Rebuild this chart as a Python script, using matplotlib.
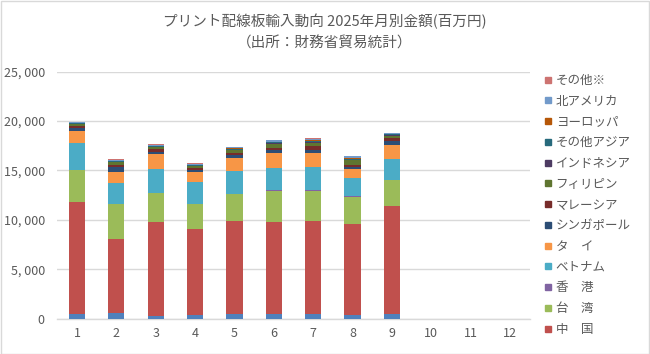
import matplotlib
matplotlib.use("Agg")
import matplotlib.pyplot as plt
from matplotlib.lines import Line2D
from matplotlib.patches import Rectangle
import numpy as np

plt.rcParams['font.family'] = ['Noto Sans CJK JP', 'DejaVu Sans']

months = ["1", "2", "3", "4", "5", "6", "7", "8", "9", "10", "11", "12"]

# unlabeled bottom series (legend entry removed in original)
base_series = [445, 545, 300, 400, 475, 475, 475, 375, 475]
china       = [11365, 7555, 9490, 8680, 9415, 9315, 9445, 9205, 10965]
taiwan      = [3240, 3480, 2900, 2530, 2700, 3170, 3040, 2770, 2570]
hongkong    = [40, 40, 40, 40, 40, 40, 40, 40, 40]
vietnam     = [2690, 2110, 2390, 2220, 2320, 2220, 2320, 1880, 2080]
thailand    = [1250, 1150, 1520, 1010, 1280, 1580, 1480, 880, 1450]
singapore   = [300, 450, 200, 200, 300, 250, 250, 250, 450]
malaysia    = [170, 250, 300, 180, 200, 200, 400, 200, 250]
philippines = [200, 250, 200, 180, 300, 450, 350, 450, 250]
indonesia   = [40, 50, 60, 50, 60, 60, 80, 60, 60]
other_asia  = [60, 60, 80, 60, 80, 80, 100, 100, 80]
europe      = [30, 40, 50, 40, 60, 80, 80, 80, 40]
n_america   = [80, 120, 90, 110, 140, 130, 160, 140, 100]
others      = [20, 30, 30, 30, 40, 40, 40, 40, 20]

series_labels = ["中　国", "台　湾", "香　港", "ベトナム", "タ　イ", "シンガポール",
                 "マレーシア", "フィリピン", "インドネシア", "その他アジア",
                 "ヨーロッパ", "北アメリカ", "その他※"]
series_values = [china, taiwan, hongkong, vietnam, thailand, singapore,
                 malaysia, philippines, indonesia, other_asia, europe,
                 n_america, others]
series_colors = ["#C0504D", "#9BBB59", "#8064A2", "#4BACC6", "#F79646", "#2C4D75",
                 "#772C2A", "#5F7530", "#4D3B62", "#276A7C", "#B65708",
                 "#729ACA", "#CD7371"]
base_color = "#4F81BD"

yticks = [0, 5000, 10000, 15000, 20000, 25000]
ytick_labels = ["0", "5, 000", "10, 000", "15, 000", "20, 000", "25, 000"]

title = "プリント配線板輸入動向 2025年月別金額(百万円)\n（出所：財務省貿易統計）"

W, H = 650, 354
fig = plt.figure(figsize=(W / 100, H / 100), dpi=100)
fig.patch.set_facecolor("white")
fig.patches.append(Rectangle((0.5 / W, 0.5 / H), 1 - 1.5 / W, 1 - 1.5 / H,
                             transform=fig.transFigure, fill=False,
                             edgecolor="#D9D9D9", linewidth=1.0))

left, right = 57.3, 529.7
top, bottom = 71.7, 318.7
ax = fig.add_axes([left / W, 1 - bottom / H, (right - left) / W, (bottom - top) / H])

x = np.arange(1, len(base_series) + 1)
width = 0.41
bottoms = np.zeros(len(x))
ax.bar(x, base_series, width, bottom=bottoms, color=base_color, zorder=3)
bottoms += np.array(base_series)
for vals, col, lab in zip(series_values, series_colors, series_labels):
    ax.bar(x, vals, width, bottom=bottoms, color=col, label=lab, zorder=3)
    bottoms += np.array(vals)

ax.set_xlim(0.5, 12.5)
ax.set_ylim(0, 25000)
ax.set_xticks(range(1, 13))
ax.set_xticklabels(months)
ax.set_yticks(yticks)
ax.set_yticklabels(ytick_labels)
ax.yaxis.grid(True, color="#D9D9D9", linewidth=1.0, zorder=0)
ax.set_axisbelow(True)
for s in ["top", "right", "left"]:
    ax.spines[s].set_visible(False)
ax.spines["bottom"].set_color("#D9D9D9")
ax.spines["bottom"].set_linewidth(1.0)
ax.tick_params(axis="both", length=0, labelsize=9, colors="#595959", pad=6)
ax.tick_params(axis="y", pad=9)

fig.text(0.5, 1 - 32 / H, title, ha="center", va="center", fontsize=10.5,
         color="#595959", linespacing=1.65)

handles = [Line2D([], [], marker="s", linestyle="none", markersize=4.5,
                  markerfacecolor=c, markeredgecolor=c) for c in series_colors]
leg = fig.legend(handles[::-1], series_labels[::-1], loc="upper left",
                 bbox_to_anchor=(545 / W, 1 - 74 / H), frameon=False,
                 fontsize=9, labelspacing=0.62, handlelength=0.5,
                 handletextpad=0.35, borderaxespad=0, borderpad=0)
for t in leg.get_texts():
    t.set_color("#595959")

fig.savefig("out.png", dpi=100)
